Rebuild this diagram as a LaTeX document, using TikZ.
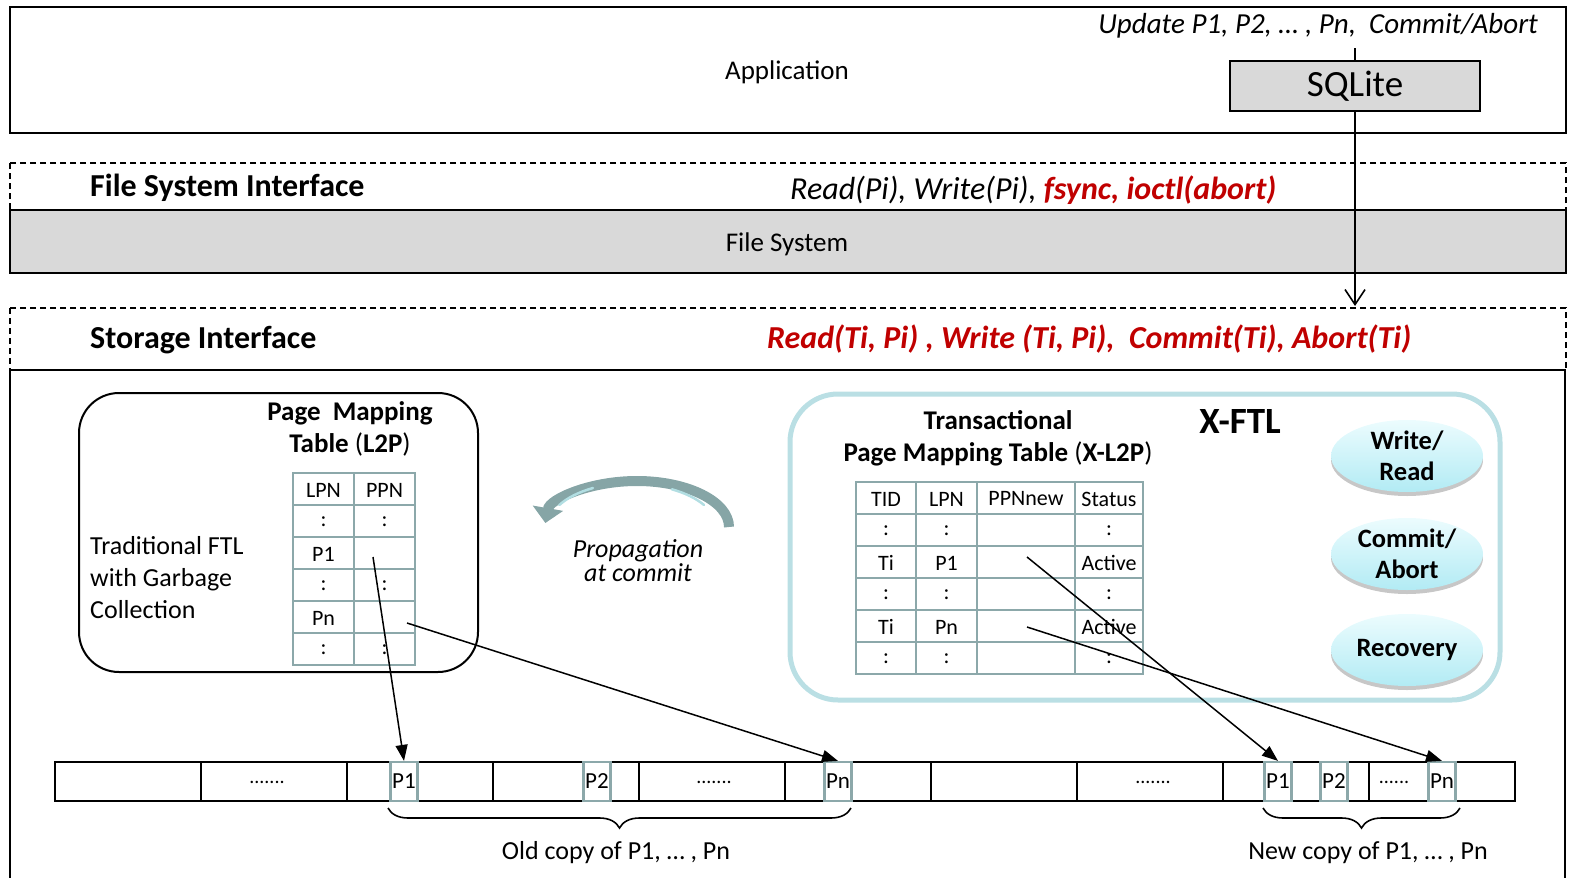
\documentclass[tikz,border=0pt]{standalone}
\usepackage{fontspec}
\setmainfont{Carlito}
\usetikzlibrary{arrows.meta,shapes.geometric,decorations.pathreplacing,shadows}

\definecolor{xred}{RGB}{192,0,0}
\definecolor{fsgray}{RGB}{217,217,217}
\definecolor{tblline}{RGB}{140,168,170}
\definecolor{xftlblue}{RGB}{186,223,228}
\definecolor{opTop}{RGB}{236,252,254}
\definecolor{opBottom}{RGB}{178,235,244}
\definecolor{propArrow}{RGB}{134,165,166}
\definecolor{propLight}{RGB}{178,222,226}

\newcommand{\setfs}[1]{\fontsize{#1}{#1}\selectfont}

\begin{document}
\begin{tikzpicture}[x=1pt,y=-1pt,
  layerbox/.style={draw, line width=1.6},
  ifacebox/.style={draw, line width=1.4, dash pattern=on 6pt off 4pt},
  txt/.style={inner sep=0, font=\setfs{27}},
  head/.style={inner sep=0, font=\setfs{32}\bfseries},
  calls/.style={inner sep=0, font=\setfs{32}\itshape},
  sqlbox/.style={draw, line width=1.6, fill=fsgray, minimum width=250, minimum height=50, inner sep=0, font=\setfs{37}},
  tbl/.style={draw=tblline, line width=2.6},
  cell/.style={inner sep=0, font=\setfs{22}},
  ttl/.style={inner sep=0, align=center, font=\setfs{27}\bfseries},
  opnode/.style={ellipse, minimum width=152, minimum height=72, inner sep=0, align=center,
    top color=opTop, bottom color=opBottom, font=\setfs{26.5}\bfseries,
    drop shadow={shadow xshift=0pt, shadow yshift=-4pt, opacity=0.22, fill=black}},
  stripcell/.style={draw, line width=1.8},
  pg/.style={draw=tblline, line width=2.2, fill=white, minimum width=27, minimum height=39, inner sep=0, font=\setfs{23}},
  dots/.style={inner sep=0, anchor=base, font=\setfs{20}},
  ptr/.style={line width=1.5, -{Triangle[length=16pt,width=12pt]}},
  brc/.style={line width=1.6, decorate, decoration={brace, amplitude=20pt}}
]
\useasboundingbox (0,0) rectangle (1569,878);

% ---------------- Application layer ----------------
\draw[layerbox] (10,7) rectangle (1566,133);
\node[txt] (app) at (787,72) {Application};
\node[calls, anchor=east, font=\setfs{29}\itshape] (upd) at (1538,26) {Update P1, P2, … , Pn,\ \ Commit/Abort};
\node[sqlbox] (sqlite) at (1355,86) {\raisebox{-3pt}{SQLite}};

% ---------------- File system interface ----------------
\draw[ifacebox] (10,163) rectangle (1566,210);
\node[head, anchor=west] (fsi) at (90,188) {File System Interface};
\node[calls, anchor=west] (fscalls) at (790,190) {Read(Pi), Write(Pi), \textcolor{xred}{\bfseries fsync, ioctl(abort)}};
\draw[layerbox, fill=fsgray] (10,210) rectangle (1566,273);
\node[txt] (fs) at (787,244) {File System};

% ---------------- Storage interface ----------------
\draw[ifacebox] (10,308) rectangle (1566,370);
\node[head, anchor=west] (si) at (90,340) {Storage Interface};
\node[calls, anchor=west, font=\setfs{32}\bfseries\itshape, text=xred] (sicalls) at (767,339)
  {Read(Ti, Pi) , Write (Ti, Pi),\ \ Commit(Ti), Abort(Ti)};
\draw[layerbox] (10,370) -- (1566,370);
\draw[layerbox] (10,370) -- (10,878);
\draw[layerbox] (1565,370) -- (1565,878);

% SQLite request path
\coordinate (updfoot) at (1355,48);
\coordinate (sitop) at (1355,306);
\draw[line width=1.6] (updfoot) -- (sqlite.north);
\draw[line width=1.6, -{Straight Barb[length=15pt,width=20pt]}] (sqlite.south) -- (sitop);

% ---------------- Traditional FTL ----------------
\draw[line width=2, rounded corners=40] (79,393) rectangle (478,672);
\node[ttl] (l2pttl) at (350,429) {Page\ \ Mapping\\[5pt]Table \mdseries(\bfseries L2P\mdseries)};
\node[txt, anchor=west, align=left, font=\setfs{26}] (tradftl) at (90,578)
  {Traditional FTL\\[6pt]with Garbage\\[6pt]Collection};

\draw[tbl] (293,473) rectangle (415,665);
\foreach \yy in {505,537,569,601,633} \draw[tbl] (293,\yy) -- (415,\yy);
\draw[tbl] (354,473) -- (354,665);
\node[cell] (l2pA0) at (323.5,490) {LPN};
\node[cell] (l2pB0) at (384.5,490) {PPN};
\node[cell] (l2pA1) at (323.5,522) {:};
\node[cell] (l2pB1) at (384.5,522) {:};
\node[cell] (l2pA2) at (323.5,554) {P1};
\node[cell] (l2pA3) at (323.5,586) {:};
\node[cell] (l2pB3) at (384.5,586) {:};
\node[cell] (l2pA4) at (323.5,618) {Pn};
\node[cell] (l2pA5) at (323.5,650) {:};
\node[cell] (l2pB5) at (384.5,650) {:};
\coordinate (l2pP1) at (373,557);
\coordinate (l2pPn) at (407,623);

% ---------------- Propagation at commit ----------------
\draw[propArrow, line width=10, -{Triangle[length=15pt,width=30pt]}]
  (729,527) arc[start angle=0, end angle=-175, x radius=92, y radius=46];
\draw[propLight, line width=2.5, line cap=round]
  (704,505) arc[start angle=-30, end angle=-60, x radius=88, y radius=43];
\draw[propLight, line width=2.5, line cap=round]
  (593,488) arc[start angle=-120, end angle=-152, x radius=88, y radius=43];
\node[txt, align=center, font=\setfs{26}\itshape] (prop) at (638,561) {Propagation\\[-2pt]at commit};

% ---------------- X-FTL ----------------
\draw[xftlblue, line width=5, rounded corners=48] (790,394) rectangle (1500,700);
\node[ttl] (xl2pttl) at (998,438) {Transactional\\[5pt]Page Mapping Table \mdseries(\bfseries X-L2P\mdseries)};
\node[inner sep=0, font=\setfs{37}\bfseries] (xftl) at (1240,421) {X-FTL};

\draw[tbl] (856,482) rectangle (1143,674);
\foreach \yy in {514,546,578,610,642} \draw[tbl] (856,\yy) -- (1143,\yy);
\foreach \xx in {916,977,1075} \draw[tbl] (\xx,482) -- (\xx,674);
\node[cell] (xA0) at (886,499) {TID};
\node[cell] (xB0) at (946.5,499) {LPN};
\node[cell] (xC0) at (1026,499) {PPNnew};
\node[cell] (xD0) at (1109,499) {Status};
\node[cell] (xA1) at (886,531) {:};
\node[cell] (xB1) at (946.5,531) {:};
\node[cell] (xD1) at (1109,531) {:};
\node[cell] (xA2) at (886,563) {Ti};
\node[cell] (xB2) at (946.5,563) {P1};
\node[cell] (xD2) at (1109,563) {Active};
\node[cell] (xA3) at (886,595) {:};
\node[cell] (xB3) at (946.5,595) {:};
\node[cell] (xD3) at (1109,595) {:};
\node[cell] (xA4) at (886,627) {Ti};
\node[cell] (xB4) at (946.5,627) {Pn};
\node[cell] (xD4) at (1109,627) {Active};
\node[cell] (xA5) at (886,659) {:};
\node[cell] (xB5) at (946.5,659) {:};
\node[cell] (xD5) at (1109,659) {:};
\coordinate (xP1) at (1027,557);
\coordinate (xPn) at (1027,627);

\node[opnode] (wr) at (1407,456) {Write/\\[4pt]Read};
\node[opnode] (ca) at (1407,554) {Commit/\\[4pt]Abort};
\node[opnode] (rec) at (1407,650) {Recovery};

% ---------------- Flash pages ----------------
\foreach \i in {0,...,9}
  \draw[stripcell] ({55+146*\i},762) rectangle ({201+146*\i},801);
\node[dots] (d1) at (267,783) {.......};
\node[dots] (d2) at (714,783) {.......};
\node[dots] (d3) at (1153,783) {.......};
\node[dots] (d4) at (1394,783) {......};

\node[pg] (oldP1) at (404,781.5) {P1};
\node[pg] (oldP2) at (597,781.5) {P2};
\node[pg] (oldPn) at (838,781.5) {Pn};
\node[pg] (newP1) at (1278,781.5) {P1};
\node[pg] (newP2) at (1334,781.5) {P2};
\node[pg] (newPn) at (1442,781.5) {Pn};

\draw[brc] (851,808) -- (388,808);
\draw[brc] (1460,808) -- (1263,808);
\node[txt, font=\setfs{26}] (oldlbl) at (616,853) {Old copy of P1, … , Pn};
\node[txt, font=\setfs{26}] (newlbl) at (1368,853) {New copy of P1, … , Pn};

% ---------------- Mapping pointers ----------------
\draw[ptr] (l2pP1) -- (oldP1.north);
\draw[ptr] (l2pPn) -- (oldPn.north);
\draw[ptr] (xP1) -- (newP1.north);
\draw[ptr] (xPn) -- (newPn.north);
\end{tikzpicture}
\end{document}
